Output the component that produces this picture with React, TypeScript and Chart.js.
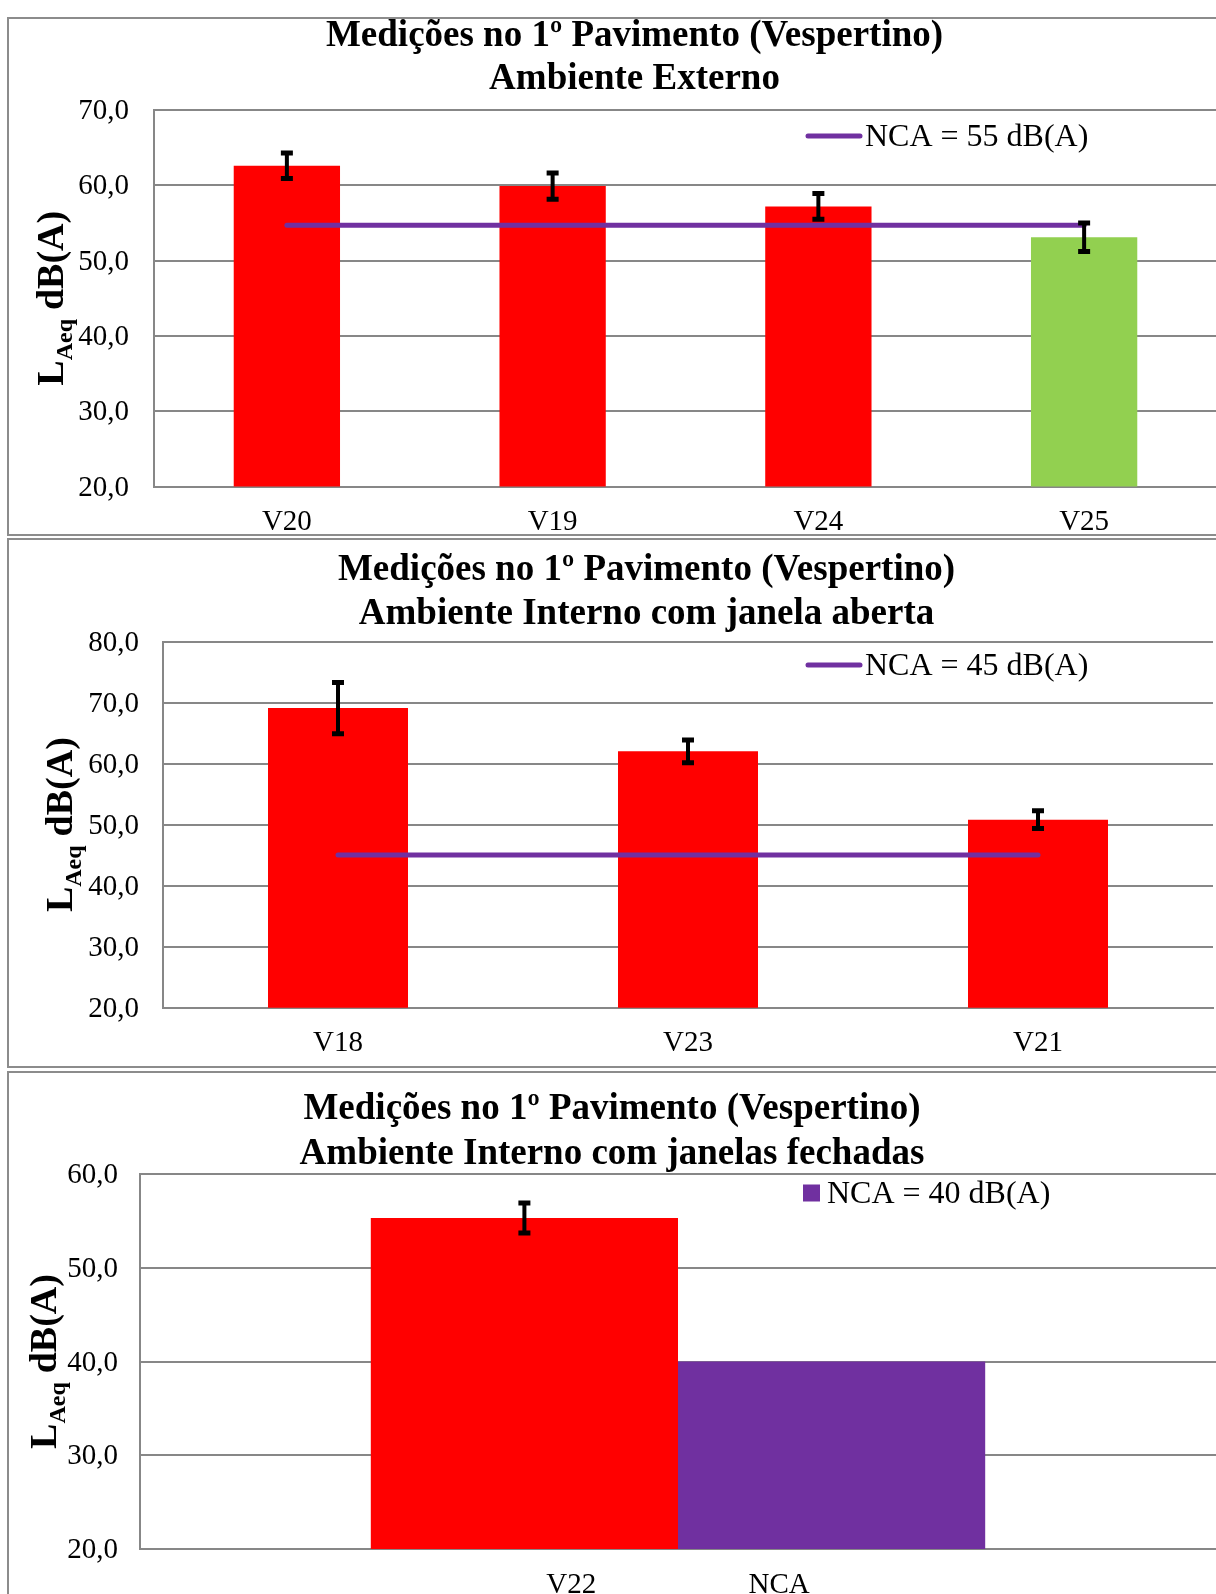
import React, { useEffect, useRef } from 'react';
import { Chart, registerables } from 'chart.js';

Chart.register(...registerables);

const FONT = "'Liberation Serif', 'Times New Roman', serif";
const GRID = '#878787';
const RED = '#FF0000';
const GREEN = '#92D050';
const PURPLE = '#7030A0';

// ---------- Chart 1: Ambiente Externo ----------
const extTitle = ['Medições no 1º Pavimento (Vespertino)', 'Ambiente Externo'];
const extCategories = ['V20', 'V19', 'V24', 'V25'];
const extValues = [62.6, 59.9, 57.2, 53.1];
const extErrors = [1.7, 1.75, 1.7, 1.9];
const extColors = [RED, RED, RED, GREEN];
const extNca = [54.7, 54.7, 54.7, 54.7];
const extNcaLabel = 'NCA = 55 dB(A)';
const extYTicks = { min: 20, max: 70, step: 10 };

// ---------- Chart 2: Ambiente Interno com janela aberta ----------
const openTitle = ['Medições no 1º Pavimento (Vespertino)', 'Ambiente Interno com janela aberta'];
const openCategories = ['V18', 'V23', 'V21'];
const openValues = [69.1, 62.0, 50.8];
const openErrors = [4.2, 1.85, 1.45];
const openColors = [RED, RED, RED];
const openNca = [45, 45, 45];
const openNcaLabel = 'NCA = 45 dB(A)';
const openYTicks = { min: 20, max: 80, step: 10 };

// ---------- Chart 3: Ambiente Interno com janelas fechadas ----------
const closedTitle = ['Medições no 1º Pavimento (Vespertino)', 'Ambiente Interno com janelas fechadas'];
const closedSeries = ['V22', 'NCA'];
const closedValues = [55.3, 40.0];
const closedErrors = [1.6, null];
const closedNcaLabel = 'NCA = 40 dB(A)';
const closedYTicks = { min: 20, max: 60, step: 10 };

const fmt = (v: any) => Number(v).toFixed(1).replace('.', ',');

const errorBarPlugin = {
  id: 'errorBars',
  afterDatasetsDraw(chart: any, _a: any, opts: any) {
    const items = opts && opts.items;
    if (!items) return;
    const ctx = chart.ctx;
    const ys = chart.scales.y;
    ctx.save();
    ctx.strokeStyle = '#000';
    items.forEach((it: any) => {
      const meta = chart.getDatasetMeta(it.datasetIndex);
      const data = chart.data.datasets[it.datasetIndex].data;
      meta.data.forEach((el: any, i: number) => {
        const e = it.errors[i];
        if (e == null) return;
        const v = data[i];
        const x = el.x;
        const yt = ys.getPixelForValue(v + e);
        const yb = ys.getPixelForValue(v - e);
        ctx.lineWidth = 4;
        ctx.beginPath();
        ctx.moveTo(x, yt);
        ctx.lineTo(x, yb);
        ctx.stroke();
        ctx.lineWidth = 5;
        ctx.beginPath();
        ctx.moveTo(x - 6, yt);
        ctx.lineTo(x + 6, yt);
        ctx.moveTo(x - 6, yb);
        ctx.lineTo(x + 6, yb);
        ctx.stroke();
      });
    });
    ctx.restore();
  },
};

const insideLegendPlugin = {
  id: 'insideLegend',
  afterDraw(chart: any, _a: any, opts: any) {
    if (!opts || opts.datasetIndex == null) return;
    const ds = chart.data.datasets[opts.datasetIndex];
    const ctx = chart.ctx;
    ctx.save();
    let tx = opts.x;
    if (opts.kind === 'line') {
      ctx.strokeStyle = ds.borderColor;
      ctx.lineWidth = 5;
      ctx.lineCap = 'round';
      ctx.beginPath();
      ctx.moveTo(opts.x + 2, opts.y);
      ctx.lineTo(opts.x + opts.sample - 2, opts.y);
      ctx.stroke();
      tx = opts.x + opts.sample + 3;
    } else {
      const c = Array.isArray(ds.backgroundColor) ? ds.backgroundColor[0] : ds.backgroundColor;
      ctx.fillStyle = c;
      ctx.fillRect(opts.x, opts.y - opts.sample / 2, opts.sample, opts.sample);
      tx = opts.x + opts.sample + 7;
    }
    ctx.fillStyle = '#000';
    ctx.font = `${opts.size}px ${FONT}`;
    ctx.textBaseline = 'middle';
    ctx.textAlign = 'left';
    ctx.fillText(ds.label, tx, opts.y + 2);
    ctx.restore();
  },
};

const yTitlePlugin = {
  id: 'yTitle',
  afterDraw(chart: any, _a: any, opts: any) {
    if (!opts || opts.x == null) return;
    const ctx = chart.ctx;
    const area = chart.chartArea;
    const cy = (area.top + area.bottom) / 2;
    const parts = [
      { t: 'L', s: 38, dy: 0 },
      { t: 'Aeq', s: 24, dy: 9 },
      { t: ' ', s: 36, dy: 0 },
      { t: 'dB(A)', s: 38, dy: 0 },
    ];
    ctx.save();
    ctx.fillStyle = '#000';
    ctx.textBaseline = 'alphabetic';
    ctx.textAlign = 'left';
    let total = 0;
    const widths = parts.map((p) => {
      ctx.font = `bold ${p.s}px ${FONT}`;
      const w = ctx.measureText(p.t).width;
      total += w;
      return w;
    });
    ctx.translate(opts.x, cy);
    ctx.rotate(-Math.PI / 2);
    let px = -total / 2;
    parts.forEach((p, i) => {
      ctx.font = `bold ${p.s}px ${FONT}`;
      ctx.fillText(p.t, px, p.dy);
      px += widths[i];
    });
    ctx.restore();
  },
};

function buildOptions(p: any) {
  return {
    responsive: false,
    maintainAspectRatio: false,
    animation: false,
    devicePixelRatio: 1,
    layout: { padding: 0 },
    plugins: {
      legend: { display: false },
      tooltip: { enabled: false },
      title: {
        display: true,
        text: p.title,
        color: '#000',
        font: { family: FONT, size: 37, weight: 'bold', lineHeight: p.titleLh / 37 },
        padding: { top: p.titlePadTop, bottom: p.titlePadBottom },
      },
      errorBars: { items: p.errorItems },
      insideLegend: p.legend,
      yTitle: { x: p.yTitleX },
    },
    scales: {
      x: {
        type: 'category',
        grid: { display: false, drawTicks: false },
        border: { display: true, color: GRID, width: 2 },
        ticks: {
          color: '#000',
          font: { family: FONT, size: 29 },
          padding: 18.5,
          maxRotation: 0,
          autoSkip: false,
        },
        afterFit: (s: any) => {
          s.height = p.xAxisHeight;
        },
      },
      y: {
        type: 'linear',
        position: 'left',
        min: p.yTicks.min,
        max: p.yTicks.max,
        ticks: {
          stepSize: p.yTicks.step,
          color: '#000',
          font: { family: FONT, size: 29 },
          padding: p.yTickPad,
          labelOffset: 1.5,
          callback: fmt,
        },
        grid: { color: GRID, lineWidth: 2, drawTicks: false },
        border: { display: true, color: GRID, width: 2 },
        afterFit: (s: any) => {
          s.width = p.yAxisWidth;
        },
      },
      yR: {
        type: 'linear',
        position: 'right',
        display: true,
        grid: { display: false, drawTicks: false },
        ticks: { display: false },
        border: { display: false },
        afterFit: (s: any) => {
          s.width = p.rightWidth;
        },
      },
    },
  };
}

const plugins = [errorBarPlugin, insideLegendPlugin, yTitlePlugin];

function config1(): any {
  return {
    type: 'bar',
    data: {
      labels: extCategories,
      datasets: [
        {
          type: 'line',
          label: extNcaLabel,
          data: extNca,
          borderColor: PURPLE,
          backgroundColor: PURPLE,
          borderWidth: 5,
          borderCapStyle: 'round',
          pointRadius: 0,
          order: 0,
          yAxisID: 'y',
        },
        {
          type: 'bar',
          label: 'LAeq',
          data: extValues,
          backgroundColor: extColors,
          borderWidth: 0,
          categoryPercentage: 0.8,
          barPercentage: 0.5,
          order: 1,
          yAxisID: 'y',
        },
      ],
    },
    options: buildOptions({
      title: extTitle,
      titleLh: 42.8,
      titlePadTop: 15,
      titlePadBottom: 9.4,
      errorItems: [{ datasetIndex: 1, errors: extErrors }],
      legend: { datasetIndex: 0, kind: 'line', x: 806, y: 136, sample: 56, size: 32 },
      yTitleX: 63,
      xAxisHeight: 47.5,
      yTicks: extYTicks,
      yTickPad: 25,
      yAxisWidth: 154,
      rightWidth: 52,
    }),
    plugins,
  };
}

function config2(): any {
  return {
    type: 'bar',
    data: {
      labels: openCategories,
      datasets: [
        {
          type: 'line',
          label: openNcaLabel,
          data: openNca,
          borderColor: PURPLE,
          backgroundColor: PURPLE,
          borderWidth: 5,
          borderCapStyle: 'round',
          pointRadius: 0,
          order: 0,
          yAxisID: 'y',
        },
        {
          type: 'bar',
          label: 'LAeq',
          data: openValues,
          backgroundColor: openColors,
          borderWidth: 0,
          categoryPercentage: 0.8,
          barPercentage: 0.5,
          order: 1,
          yAxisID: 'y',
        },
      ],
    },
    options: buildOptions({
      title: openTitle,
      titleLh: 43.7,
      titlePadTop: 10.45,
      titlePadBottom: 5.65,
      errorItems: [{ datasetIndex: 1, errors: openErrors }],
      legend: { datasetIndex: 0, kind: 'line', x: 806, y: 127, sample: 56, size: 32 },
      yTitleX: 72,
      xAxisHeight: 60.3,
      yTicks: openYTicks,
      yTickPad: 24,
      yAxisWidth: 163,
      rightWidth: 80,
    }),
    plugins,
  };
}

function config3(): any {
  return {
    type: 'bar',
    data: {
      labels: [closedSeries.join(' '.repeat(21))],
      datasets: [
        {
          type: 'bar',
          label: closedSeries[0],
          data: [closedValues[0]],
          backgroundColor: RED,
          borderWidth: 0,
          categoryPercentage: 0.571,
          barPercentage: 1,
          yAxisID: 'y',
        },
        {
          type: 'bar',
          label: closedNcaLabel,
          data: [closedValues[1]],
          backgroundColor: PURPLE,
          borderWidth: 0,
          categoryPercentage: 0.571,
          barPercentage: 1,
          yAxisID: 'y',
        },
      ],
    },
    options: buildOptions({
      title: closedTitle,
      titleLh: 44.7,
      titlePadTop: 16.35,
      titlePadBottom: -2.75,
      errorItems: [
        { datasetIndex: 0, errors: [closedErrors[0]] },
        { datasetIndex: 1, errors: [closedErrors[1]] },
      ],
      legend: { datasetIndex: 1, kind: 'box', x: 803, y: 122, sample: 17, size: 32 },
      yTitleX: 56,
      xAxisHeight: 55,
      yTicks: closedYTicks,
      yTickPad: 22,
      yAxisWidth: 140,
      rightWidth: 8,
    }),
    plugins,
  };
}

const frameStyle = (top: number, height: number): React.CSSProperties => ({
  position: 'absolute',
  left: 7,
  top,
  width: 1300,
  height,
  border: '2px solid #8c8c8c',
  boxSizing: 'border-box',
});

export default function App() {
  const r1 = useRef<HTMLCanvasElement>(null);
  const r2 = useRef<HTMLCanvasElement>(null);
  const r3 = useRef<HTMLCanvasElement>(null);

  useEffect(() => {
    document.documentElement.style.overflow = 'hidden';
    const charts = [
      new Chart(r1.current as HTMLCanvasElement, config1()),
      new Chart(r2.current as HTMLCanvasElement, config2()),
      new Chart(r3.current as HTMLCanvasElement, config3()),
    ];
    return () => charts.forEach((c) => c.destroy());
  }, []);

  return (
    <div
      style={{
        position: 'absolute',
        left: 0,
        top: 0,
        width: 1216,
        height: 1594,
        overflow: 'hidden',
        background: '#fff',
      }}
    >
      <div style={frameStyle(17, 519)} />
      <div style={frameStyle(538, 530)} />
      <div style={frameStyle(1071, 600)} />
      <canvas
        ref={r1}
        width={1269}
        height={534}
        style={{ position: 'absolute', left: 0, top: 0, width: 1269, height: 534 }}
      />
      <canvas
        ref={r2}
        width={1293}
        height={530}
        style={{ position: 'absolute', left: 0, top: 538, width: 1293, height: 530 }}
      />
      <canvas
        ref={r3}
        width={1224}
        height={533}
        style={{ position: 'absolute', left: 0, top: 1071, width: 1224, height: 533 }}
      />
    </div>
  );
}
